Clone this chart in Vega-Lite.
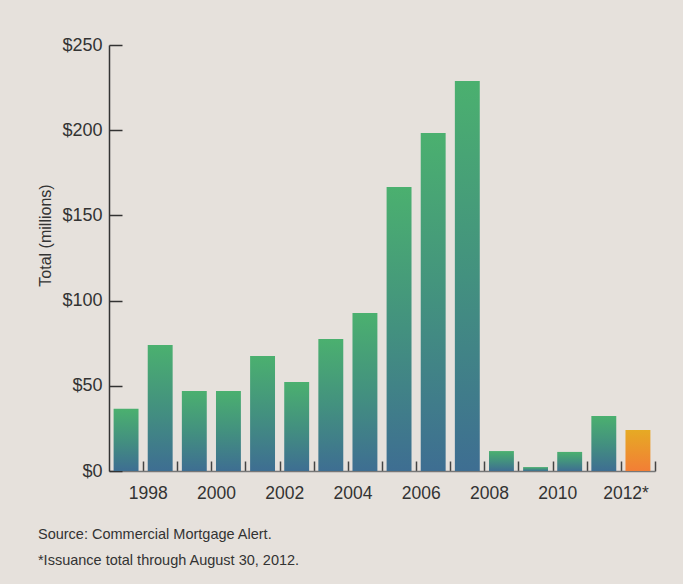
{
  "$schema": "https://vega.github.io/schema/vega-lite/v6.json",
  "width": 546,
  "height": 426,
  "autosize": "none",
  "padding": {"left": 109, "top": 45, "right": 28, "bottom": 113},
  "background": "#e6e1dc",
  "data": {"values": [
    {"year": "1997", "total": 36.5},
    {"year": "1998", "total": 74},
    {"year": "1999", "total": 47},
    {"year": "2000", "total": 47},
    {"year": "2001", "total": 67.5},
    {"year": "2002", "total": 52.2},
    {"year": "2003", "total": 77.5},
    {"year": "2004", "total": 92.7},
    {"year": "2005", "total": 166.7},
    {"year": "2006", "total": 198.4},
    {"year": "2007", "total": 228.9},
    {"year": "2008", "total": 11.7},
    {"year": "2009", "total": 2.3},
    {"year": "2010", "total": 11.2},
    {"year": "2011", "total": 32.3},
    {"year": "2012*", "total": 24}
  ]},
  "title": {
    "text": "Source: Commercial Mortgage Alert.",
    "subtitle": "*Issuance total through August 30, 2012.",
    "orient": "bottom",
    "anchor": "start",
    "frame": "bounds",
    "offset": 26,
    "font": "Liberation Sans, sans-serif",
    "fontSize": 14.5,
    "fontWeight": "normal",
    "color": "#333333",
    "subtitleFont": "Liberation Sans, sans-serif",
    "subtitleFontSize": 14.5,
    "subtitleColor": "#333333",
    "subtitlePadding": 12
  },
  "mark": {"type": "bar"},
  "encoding": {
    "x": {
      "field": "year",
      "type": "ordinal",
      "sort": null,
      "scale": {"paddingInner": 0.27, "paddingOuter": 0.135},
      "axis": {
        "title": null,
        "bandPosition": 1,
        "tickOffset": 4.6,
        "labelOffset": -17,
        "labelAngle": 0,
        "tickSize": -10,
        "tickWidth": 1.5,
        "tickColor": "#444444",
        "domainColor": "#777777",
        "domainWidth": 1.5,
        "labelPadding": 23,
        "labelFont": "Liberation Sans, sans-serif",
        "labelFontSize": 17.5,
        "labelColor": "#333333",
        "labelExpr": "toNumber(slice(datum.value, 0, 4)) % 2 == 0 ? datum.value : ''"
      }
    },
    "y": {
      "field": "total",
      "type": "quantitative",
      "scale": {"domain": [0, 250], "nice": false},
      "axis": {
        "title": "Total (millions)",
        "titleY": 190,
        "values": [0, 50, 100, 150, 200, 250],
        "labelExpr": "'$' + datum.value",
        "grid": false,
        "tickSize": -13,
        "tickWidth": 1.5,
        "tickColor": "#333333",
        "domainColor": "#333333",
        "domainWidth": 1.5,
        "labelPadding": 20,
        "labelFont": "Liberation Sans, sans-serif",
        "labelFontSize": 18,
        "labelColor": "#333333",
        "titleFont": "Liberation Sans, sans-serif",
        "titleFontSize": 16,
        "titleFontWeight": "normal",
        "titleColor": "#333333",
        "titlePadding": 8
      }
    },
    "color": {
      "condition": {
        "test": "datum.year === '2012*'",
        "value": {"gradient": "linear", "x1": 0, "y1": 0, "x2": 0, "y2": 1,
          "stops": [{"offset": 0, "color": "#e6aa24"}, {"offset": 1, "color": "#f27e36"}]}
      },
      "value": {"gradient": "linear", "x1": 0, "y1": 0, "x2": 0, "y2": 1,
        "stops": [{"offset": 0, "color": "#4bb06f"}, {"offset": 0.5, "color": "#43917f"}, {"offset": 1, "color": "#3e6e92"}]}
    }
  },
  "config": {"view": {"stroke": null}}
}
